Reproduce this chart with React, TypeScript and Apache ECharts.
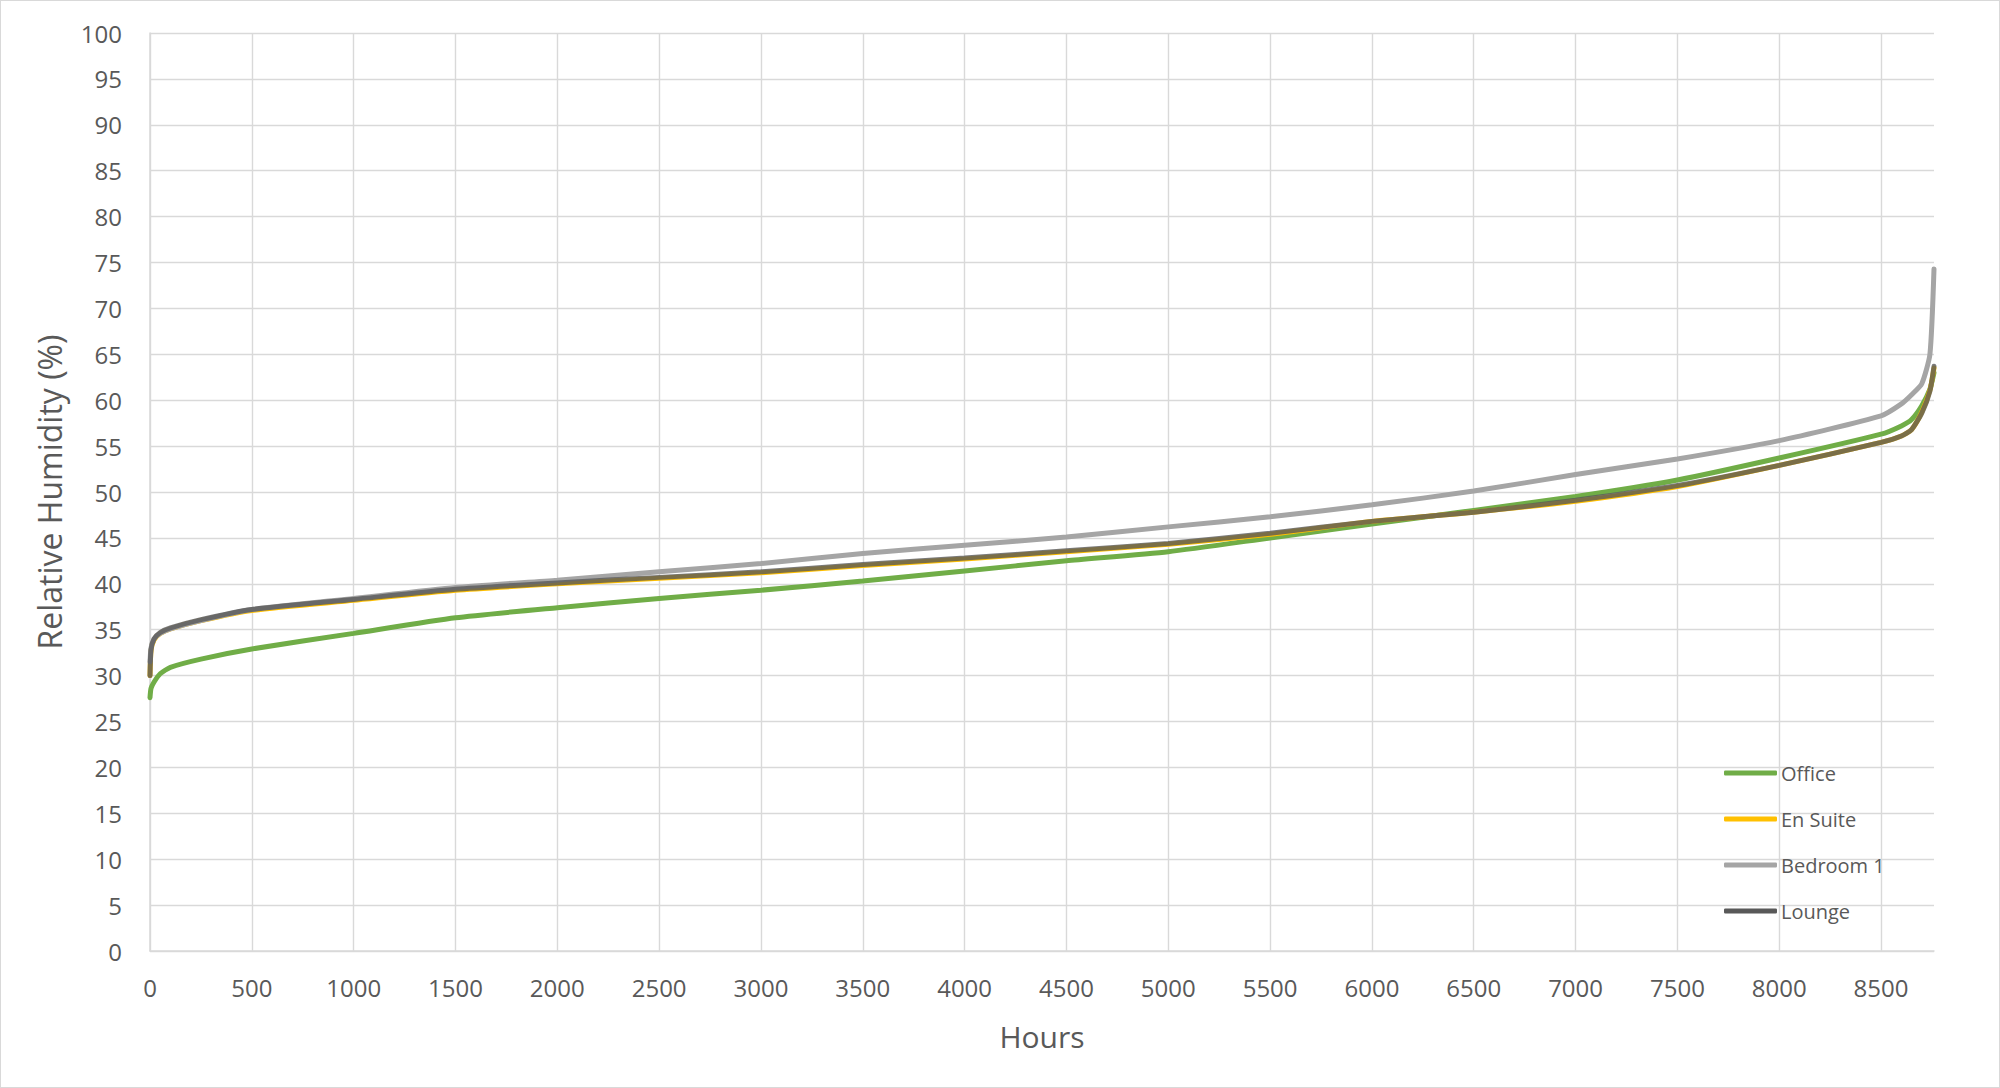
import React, { useEffect, useRef } from "react";
import * as echarts from "echarts";

const hours = [0, 5, 20, 50, 100, 250, 500, 1000, 1500, 2000, 2500, 3000, 3500, 4000, 4500, 5000, 5500, 6000, 6500, 7000, 7500, 8000, 8500, 8600, 8650, 8700, 8740, 8760];

const office = [27.6, 28.6, 29.3, 30.2, 30.9, 31.8, 32.9, 34.6, 36.3, 37.4, 38.4, 39.3, 40.3, 41.4, 42.5, 43.5, 45.0, 46.5, 48.0, 49.5, 51.3, 53.7, 56.3, 57.2, 57.9, 59.4, 61.2, 63.0];
const enSuite = [30.0, 32.7, 33.9, 34.6, 35.1, 36.0, 37.1, 38.2, 39.3, 40.0, 40.6, 41.2, 42.0, 42.7, 43.5, 44.3, 45.4, 46.8, 47.8, 49.0, 50.6, 52.9, 55.4, 56.1, 56.8, 58.7, 61.1, 63.5];
const bedroom1 = [31.5, 33.0, 34.0, 34.6, 35.1, 36.0, 37.2, 38.4, 39.6, 40.4, 41.3, 42.2, 43.3, 44.2, 45.1, 46.2, 47.3, 48.6, 50.1, 51.9, 53.6, 55.6, 58.3, 59.6, 60.6, 61.8, 65.0, 74.3];
const lounge = [30.0, 32.8, 34.0, 34.7, 35.2, 36.1, 37.2, 38.3, 39.4, 40.1, 40.7, 41.3, 42.1, 42.8, 43.6, 44.4, 45.5, 46.8, 47.8, 49.1, 50.7, 52.9, 55.4, 56.1, 56.8, 58.6, 61.0, 63.7];

const seriesNames = ["Office", "En Suite", "Bedroom 1", "Lounge"];
const seriesColors = ["#70AD47", "#FFC000", "#A5A5A5", "#595959"];
const seriesValues = [office, enSuite, bedroom1, lounge];

const FONT = "'Open Sans', sans-serif";
const TEXT = "#595959";
const GRID = "#d9d9d9";

export default function App() {
  const ref = useRef<HTMLDivElement>(null);
  useEffect(() => {
    document.body.style.margin = "0";
    if (!ref.current) return;
    const chart = echarts.init(ref.current, undefined, { renderer: "svg" });
    chart.setOption({
      animation: false,
      backgroundColor: "#ffffff",
      textStyle: { fontFamily: FONT, color: TEXT },
      grid: { left: 149, right: 65, top: 32, bottom: 136, containLabel: false },
      legend: {
        orient: "vertical",
        left: 1718,
        top: 755,
        itemWidth: 53,
        itemHeight: 5,
        itemGap: 22,
        icon: "roundRect",
        data: seriesNames,
        textStyle: { fontFamily: FONT, fontSize: 20, color: TEXT, lineHeight: 24, padding: [0, 0, 0, -1] },
      },
      xAxis: {
        type: "value",
        min: 0,
        max: 8760,
        interval: 500,
        name: "Hours",
        nameLocation: "middle",
        nameGap: 70,
        nameTextStyle: { fontFamily: FONT, fontSize: 30, color: TEXT },
        axisLine: { show: true, lineStyle: { color: GRID, width: 1.5 } },
        axisTick: { show: false },
        axisLabel: {
          fontFamily: FONT,
          fontSize: 24,
          color: TEXT,
          margin: 24,
          showMaxLabel: false,
          formatter: (v: number) => String(v),
        },
        splitLine: { show: true, showMaxLine: false, lineStyle: { color: GRID, width: 1.4 } },
      },
      yAxis: {
        type: "value",
        min: 0,
        max: 100,
        interval: 5,
        name: "Relative Humidity (%)",
        nameLocation: "middle",
        nameRotate: 90,
        nameGap: 85,
        nameTextStyle: { fontFamily: FONT, fontSize: 32, color: TEXT },
        axisLine: { show: true, lineStyle: { color: GRID, width: 1.5 } },
        axisTick: { show: false },
        axisLabel: { fontFamily: FONT, fontSize: 24, color: TEXT, margin: 28 },
        splitLine: { show: true, lineStyle: { color: GRID, width: 1.4 } },
      },
      series: seriesNames.map((name, i) => ({
        name,
        type: "line",
        showSymbol: false,
        symbol: "none",
        smooth: 0.2,
        data: hours.map((h, j) => [h, seriesValues[i][j]]),
        color: seriesColors[i],
        lineStyle: { color: seriesColors[i], width: 5, opacity: name === "Lounge" ? 0.8 : 1, cap: "round" },
        itemStyle: { color: seriesColors[i] },
      })),
    });
    return () => chart.dispose();
  }, []);
  return (
    <div
      ref={ref}
      style={{ width: 2000, height: 1088, boxSizing: "border-box", border: "1px solid #d9d9d9" }}
    />
  );
}
